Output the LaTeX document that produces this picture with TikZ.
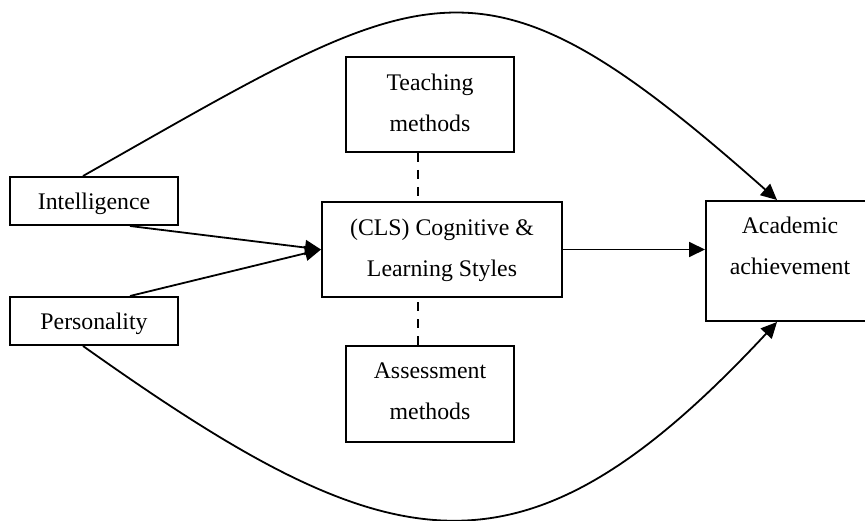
\documentclass[tikz,border=0pt]{standalone}
\usepackage{fontspec}
\setmainfont{Liberation Serif}
\usetikzlibrary{arrows.meta}

\tikzset{
  box/.style={draw, line width=2pt, rectangle, inner sep=0pt},
  lbl/.style={inner sep=0pt, align=center,
    font=\fontsize{23.8}{41}\selectfont},
  arr/.style={line width=1.8pt, -{Triangle[length=16pt,width=15pt]}},
  link/.style={line width=2.8pt, dash pattern=on 9pt off 8pt}
}

\begin{document}
\begin{tikzpicture}[x=1pt, y=-1pt]
  \useasboundingbox (0,0) rectangle (865,521);
  \clip (0,0) rectangle (865,521);

  % boxes
  \node[box, minimum width=168pt, minimum height=48pt] (intel) at (94,201) {};
  \node[box, minimum width=168pt, minimum height=48pt] (pers)  at (94,321) {};
  \node[box, minimum width=168pt, minimum height=95pt] (teach) at (430,104.5) {};
  \node[box, minimum width=168pt, minimum height=96pt] (assess) at (430,394) {};
  \node[box, minimum width=240pt, minimum height=95pt] (cls)   at (442,249.5) {};
  \node[box, minimum width=168pt, minimum height=120pt] (acad) at (790,261) {};

  % labels
  \node[lbl, anchor=base] (tintel) at (94,210) {Intelligence};
  \node[lbl, anchor=base] (tpers)  at (94,330) {Personality};
  \node[lbl, anchor=north] (tteach) at (430,73.7) {Teaching\\methods};
  \node[lbl, anchor=north] (tassess) at (430,363) {Assessment\\methods};
  \node[lbl, anchor=north] (tcls) at (442,218.5) {(CLS) Cognitive \&\\Learning Styles};
  \node[lbl, anchor=north] (tacad) at (790,216.7) {Academic\\achievement};

  % influences on the learning styles
  \draw[arr] ([xshift=36pt]intel.south) -- (cls.west);
  \draw[arr] ([xshift=36pt]pers.north) -- (cls.west);
  \draw[arr] (cls.east) -- (cls.east -| acad.west);

  % direct paths to achievement
  \draw[arr] ([xshift=-11pt]intel.north) .. controls (433,-22) and (477,-66) .. ([xshift=-13pt]acad.north);
  \draw[arr] ([xshift=-11pt]pers.south) .. controls (390,564) and (520,598) .. ([xshift=-13pt]acad.south);

  % methods linked to the styles
  \draw[link] ([xshift=-12pt]teach.south) -- ([xshift=-12pt]teach.south |- cls.north);
  \draw[link] ([xshift=-12pt]assess.north) -- ([xshift=-12pt]assess.north |- cls.south);
\end{tikzpicture}
\end{document}
